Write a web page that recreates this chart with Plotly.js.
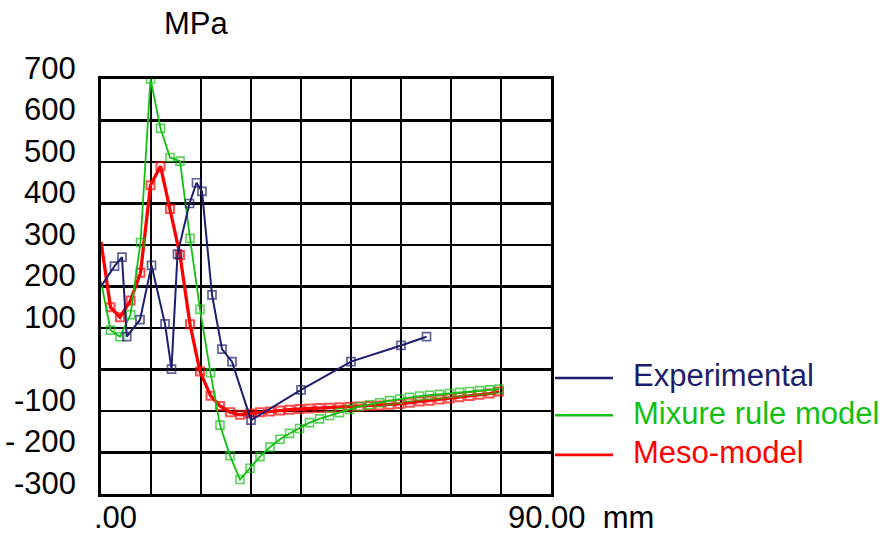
<!DOCTYPE html>
<html>
<head>
<meta charset="utf-8">
<script src="https://cdn.plot.ly/plotly-3.0.1.min.js"></script>
<style>html,body{margin:0;padding:0;background:#fff;}#chart{width:883px;height:536px;}</style>
</head>
<body>
<div id="chart"></div>
<script>
// ---- data ----
const seriesNames = ["Experimental", "Mixure rule model", "Meso-model"];
const expX = [0, 2.7, 4.2, 5.15, 7.8, 10.1, 12.8, 14.1, 15.3, 17.7, 19.1, 20.2, 22.2, 24.2, 26.2, 30, 40, 50, 60, 65.1];
const expY = [200, 249, 271, 79, 120, 251, 110, 1, 278, 400, 450, 429, 180, 49, 19, -122, -49, 19, 58, 79];
const modelX = [0, 1.9, 3.8, 5.9, 7.9, 9.9, 11.9, 13.8, 15.8, 17.8, 19.8, 21.9, 23.8, 25.8, 27.8, 29.8, 31.8, 33.8, 35.8, 37.7, 39.7, 41.7, 43.7, 45.7, 47.7, 49.7, 51.7, 53.7, 55.7, 57.7, 59.7, 61.7, 63.7, 65.7, 67.7, 69.7, 71.7, 73.7, 75.7, 77.7, 79.6];
const mixY = [212, 95, 79, 132, 306, 700, 581, 511, 502, 316, 145, -8, -134, -208, -265, -238, -210, -187, -168, -154, -142, -128, -119, -111, -104, -96, -89, -85, -80, -75, -71, -67, -64, -62, -60, -58, -55, -53, -51, -49, -47];
const mesoY = [308, 150, 126, 166, 233, 444, 490, 387, 276, 109, -5, -63, -88, -103, -109, -106, -103, -101, -99, -97, -95, -94, -93, -92, -91, -90, -89, -88, -87, -85, -83, -80, -77, -75, -72, -70, -67, -64, -61, -58, -53];
const yTickVals = [700, 600, 500, 400, 300, 200, 100, 0, -100, -200, -300];
const yTickText = ["700", "600", "500", "400", "300", "200", "100", "0", "-100", "- 200", "-300"];
const xTickText = [".00", "90.00\u00A0\u00A0mm"];
const yUnit = "MPa";

// ---- styling ----
const colors = ["#1e1e6e", "#12c012", "#ff0000"];
const FONT = "Liberation Sans, Arial, sans-serif";
const FS = 31;
const W = 883, H = 536;
const L = 101, R = 551, T = 79, B = 494.5;
const px = x => (x - L) / (R - L);
const py = y => (B - y) / (B - T);

function sizes(n) { const s = []; for (let i = 0; i < n; i++) s.push(i === 0 ? 0 : 8); return s; }

const traces = [
  {x: modelX, y: mesoY, name: seriesNames[2], mode: "lines+markers",
   line: {color: colors[2], width: 3.3},
   marker: {symbol: "square-open", size: sizes(modelX.length), color: colors[2], line: {width: 2, color: colors[2]}}},
  {x: modelX, y: mixY, name: seriesNames[1], mode: "lines+markers",
   line: {color: colors[1], width: 1.8},
   marker: {symbol: "square-open", size: sizes(modelX.length), color: colors[1], line: {width: 1.6, color: colors[1]}}},
  {x: expX, y: expY, name: seriesNames[0], mode: "lines+markers",
   line: {color: colors[0], width: 2},
   marker: {symbol: "square-open", size: sizes(expX.length), color: colors[0], line: {width: 1.7, color: colors[0]}}}
];

const annotations = [];
function addText(text, x, y, xanchor, color) {
  annotations.push({text: text, xref: "paper", yref: "paper", x: px(x), y: py(y),
    xanchor: xanchor, yanchor: "middle", showarrow: false, borderpad: 0,
    font: {family: FONT, size: FS, color: color || "#000"}});
}
// y tick labels: baseline on gridline
yTickVals.forEach((v, i) => {
  annotations.push({text: yTickText[i], xref: "paper", yref: "y", x: px(78), y: v,
    xanchor: "right", yanchor: "middle", yshift: 11, showarrow: false,
    font: {family: FONT, size: FS, color: "#000"}});
});
addText(xTickText[0], 93, 518.5, "left");
addText(xTickText[1], 507, 518.5, "left");
addText(yUnit, 196, 23.5, "center");

// legend
const legY = [378.3, 415.7, 455.3];
const legTextY = [376, 413.5, 453];
const shapes = [];
seriesNames.forEach((n, i) => {
  shapes.push({type: "line", xref: "paper", yref: "paper", x0: px(555), x1: px(613), y0: py(legY[i]), y1: py(legY[i]),
    line: {color: colors[i], width: 2.6}});
  addText(n, 632, legTextY[i], "left", colors[i]);
});

const axisCommon = {showgrid: true, gridcolor: "#000", gridwidth: 2.6, zeroline: false,
  showline: true, linecolor: "#000", linewidth: 3, mirror: true, showticklabels: false, ticks: ""};

const layout = {
  width: W, height: H,
  margin: {l: L, r: W - R, t: T, b: H - B, pad: 0},
  paper_bgcolor: "#fff", plot_bgcolor: "#fff",
  showlegend: false,
  xaxis: Object.assign({}, axisCommon, {range: [0, 90], dtick: 10, tick0: 0}),
  yaxis: Object.assign({}, axisCommon, {range: [-300, 700], dtick: 100, tick0: 0}),
  annotations: annotations,
  shapes: shapes,
  font: {family: FONT}
};

Plotly.newPlot("chart", traces, layout, {staticPlot: true, displayModeBar: false});
</script>
</body>
</html>
